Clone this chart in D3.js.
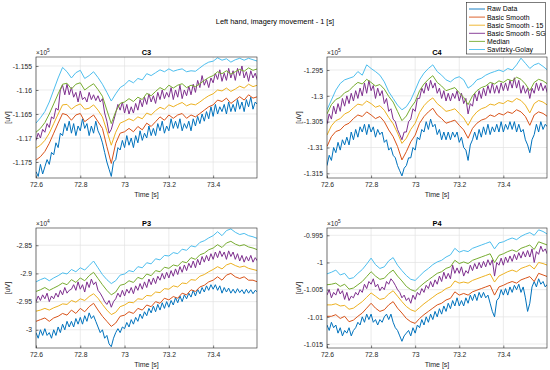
<!DOCTYPE html>
<html>
<head>
<meta charset="utf-8">
<script src="https://cdn.jsdelivr.net/npm/d3@7"></script>
<style>
  body { margin: 0; background: #fff; }
  svg { font-family: "Liberation Sans", Arial, sans-serif; display: block; }
</style>
</head>
<body>
<svg id="chart" width="550" height="370"></svg>
<script>
// --- labels / ticks ---
const SERIES = ["Raw Data", "Basic Smooth", "Basic Smooth - 15", "Basic Smooth - SG", "Median", "Savitzky-Golay"];
const X_TICKS = [72.6, 72.8, 73, 73.2, 73.4];
const T0 = 72.6, DT_FINE = 0.01, DT_COARSE = 0.02;   // raw + SG sampled finer than the other smoothers

// --- C3 (uV) ---
const C3_RAW = [-117700,-117800,-117550,-117750,-117600,-117450,-117550,-117300,-117350,-117100,-117200,-116900,-116950,-116700,-116850,-116650,-116900,-116700,-116950,-116750,-116850,-116600,-116800,-116700,-116950,-116750,-116900,-116650,-116850,-116950,-117100,-117300,-117500,-117650,-117800,-117500,-117450,-117200,-117250,-117050,-117200,-116950,-117150,-117000,-117200,-116950,-117100,-116850,-117050,-116900,-117000,-116750,-116950,-116800,-116950,-116700,-116850,-116650,-116900,-116750,-116850,-116600,-116800,-116650,-116800,-116600,-116850,-116700,-116800,-116650,-116850,-116600,-116750,-116550,-116700,-116500,-116650,-116450,-116600,-116350,-116550,-116300,-116500,-116350,-116450,-116300,-116500,-116250,-116450,-116300,-116450,-116200,-116400,-116250,-116450,-116200,-116350,-116150,-116400,-116250,-116300];
const C3_BASIC = [-117460,-117390,-117280,-117110,-116900,-116690,-116490,-116520,-116630,-116520,-116490,-116660,-116590,-116520,-116660,-116800,-117180,-117530,-117110,-116900,-116870,-116800,-116870,-116760,-116830,-116690,-116760,-116660,-116560,-116630,-116520,-116590,-116520,-116490,-116590,-116520,-116560,-116490,-116420,-116350,-116310,-116210,-116240,-116170,-116280,-116210,-116140,-116210,-116100,-116170,-116140];
const C3_BASIC15 = [-117210,-117150,-117050,-116900,-116700,-116500,-116310,-116300,-116400,-116330,-116290,-116400,-116380,-116310,-116420,-116560,-116850,-117150,-116880,-116690,-116650,-116600,-116640,-116560,-116600,-116480,-116520,-116430,-116360,-116400,-116310,-116350,-116300,-116260,-116330,-116290,-116310,-116250,-116180,-116120,-116080,-116000,-116020,-115960,-116030,-115980,-115920,-115960,-115880,-115930,-115900];
const C3_SG = [-117050,-116900,-117000,-116820,-116880,-116700,-116780,-116560,-116600,-116380,-116420,-116000,-115900,-116100,-115880,-116100,-115950,-116150,-116050,-116250,-116020,-116200,-116150,-116250,-116050,-116200,-116100,-116220,-116120,-116250,-116180,-116480,-116650,-116900,-116820,-116650,-116480,-116300,-116420,-116250,-116480,-116300,-116500,-116350,-116480,-116280,-116420,-116200,-116350,-116150,-116300,-116080,-116250,-116120,-116280,-116050,-116200,-116000,-116180,-116050,-116150,-115950,-116200,-116000,-116150,-115900,-116180,-116000,-116120,-115920,-116100,-115880,-116050,-115800,-115950,-115700,-115900,-115780,-115950,-115750,-115850,-115650,-115780,-115580,-115820,-115650,-115800,-115550,-115750,-115600,-115800,-115550,-115700,-115500,-115750,-115620,-115820,-115600,-115750,-115650,-115800];
const C3_MEDIAN = [-116880,-116800,-116680,-116500,-116290,-116080,-115880,-115860,-115980,-115880,-115850,-116000,-115930,-115870,-115990,-116130,-116420,-116700,-116450,-116280,-116250,-116180,-116240,-116150,-116200,-116070,-116120,-116030,-115950,-116000,-115900,-115960,-115900,-115870,-115950,-115900,-115930,-115870,-115800,-115740,-115700,-115620,-115660,-115600,-115670,-115620,-115570,-115610,-115540,-115590,-115560];
const C3_SAVGOL = [-116690,-116580,-116450,-116250,-116000,-115750,-115530,-115620,-115750,-115640,-115590,-115760,-115700,-115620,-115740,-115880,-116050,-116230,-116080,-115950,-115890,-115800,-115850,-115760,-115790,-115660,-115700,-115640,-115580,-115620,-115560,-115610,-115580,-115560,-115620,-115600,-115610,-115540,-115470,-115420,-115400,-115330,-115380,-115350,-115420,-115370,-115340,-115380,-115340,-115370,-115400];

// --- C4 (uV) ---
const C4_RAW = [-131350,-131150,-131250,-131000,-131100,-130900,-131050,-130850,-130950,-130800,-130950,-130700,-130850,-130650,-130800,-130600,-130700,-130550,-130750,-130550,-130700,-130600,-130800,-130650,-130750,-130700,-130900,-130850,-131050,-131000,-131150,-131200,-131350,-131450,-131550,-131400,-131350,-131200,-131200,-131000,-131050,-130800,-130850,-130650,-130700,-130500,-130650,-130450,-130600,-130550,-130750,-130650,-130850,-130700,-130850,-130700,-130850,-130700,-130800,-130700,-130900,-130800,-131000,-131050,-131250,-130950,-130850,-130700,-130850,-130650,-130800,-130600,-130750,-130550,-130750,-130600,-130700,-130550,-130700,-130500,-130700,-130550,-130650,-130500,-130650,-130500,-130700,-130550,-130700,-130650,-130850,-130950,-131100,-130850,-130750,-130550,-130700,-130500,-130650,-130550,-130600];
const C4_BASIC = [-130980,-130790,-130690,-130660,-130570,-130530,-130440,-130370,-130400,-130310,-130370,-130440,-130400,-130500,-130660,-130790,-130980,-131240,-131080,-130890,-130760,-130530,-130400,-130310,-130240,-130370,-130440,-130530,-130500,-130470,-130570,-130660,-130820,-130630,-130530,-130470,-130440,-130370,-130400,-130340,-130370,-130310,-130340,-130270,-130310,-130400,-130570,-130370,-130310,-130340,-130400];
const C4_BASIC15 = [-130760,-130580,-130480,-130440,-130350,-130310,-130230,-130160,-130180,-130100,-130150,-130220,-130190,-130280,-130420,-130540,-130720,-130920,-130820,-130650,-130530,-130320,-130190,-130100,-130040,-130150,-130220,-130300,-130280,-130250,-130340,-130430,-130570,-130410,-130310,-130250,-130220,-130160,-130180,-130130,-130150,-130090,-130120,-130050,-130090,-130180,-130330,-130150,-130090,-130120,-130180];
const C4_SG = [-130550,-130350,-130450,-130200,-130350,-130150,-130300,-130050,-130200,-130000,-130150,-129950,-130100,-129900,-130050,-129850,-130000,-129750,-129950,-129700,-129900,-129800,-130050,-129850,-130000,-129900,-130150,-130050,-130300,-130250,-130450,-130500,-130650,-130750,-130850,-130700,-130700,-130500,-130450,-130250,-130300,-130050,-130050,-129850,-129950,-129750,-129900,-129700,-129850,-129750,-129950,-129850,-130050,-129900,-130100,-129950,-130100,-129950,-130050,-129900,-130100,-129950,-130150,-130050,-130350,-130150,-130200,-129950,-130100,-129900,-130050,-129850,-130000,-129800,-129950,-129750,-129950,-129800,-129950,-129750,-129900,-129750,-129900,-129700,-129850,-129650,-129850,-129700,-129950,-129800,-129950,-129850,-130050,-129850,-129950,-129750,-129900,-129750,-129900,-129800,-129950];
const C4_MEDIAN = [-130350,-130170,-130070,-130030,-129940,-129900,-129810,-129740,-129770,-129680,-129740,-129810,-129780,-129870,-130010,-130120,-130300,-130480,-130390,-130230,-130110,-129900,-129770,-129680,-129610,-129740,-129810,-129900,-129870,-129840,-129940,-130030,-130170,-130000,-129900,-129840,-129810,-129740,-129770,-129710,-129740,-129680,-129710,-129640,-129680,-129770,-129900,-129740,-129680,-129710,-129770];
const C4_SAVGOL = [-130270,-130080,-129890,-129760,-129690,-129660,-129630,-129530,-129600,-129400,-129470,-129530,-129600,-129730,-129920,-130050,-130180,-130270,-130210,-130080,-129890,-129690,-129560,-129470,-129400,-129530,-129600,-129690,-129730,-129660,-129630,-129690,-129850,-129790,-129690,-129660,-129600,-129560,-129530,-129500,-129530,-129470,-129500,-129400,-129270,-129370,-129470,-129400,-129370,-129430,-129500];

// --- P3 (uV) ---
const P3_RAW = [-30050,-30150,-30000,-30100,-29980,-30100,-30050,-30150,-30000,-30100,-29950,-30050,-29900,-30000,-29850,-29950,-29850,-29950,-29800,-29900,-29780,-29900,-29750,-29850,-29700,-29800,-29750,-29850,-29950,-30050,-30000,-30150,-30100,-30250,-30300,-30150,-30050,-29980,-30050,-29950,-29980,-29870,-29950,-29820,-29900,-29780,-29850,-29720,-29800,-29680,-29750,-29620,-29700,-29580,-29680,-29550,-29650,-29520,-29620,-29500,-29600,-29480,-29560,-29430,-29520,-29400,-29500,-29380,-29450,-29350,-29420,-29300,-29400,-29280,-29360,-29250,-29330,-29220,-29300,-29200,-29280,-29200,-29300,-29220,-29350,-29250,-29330,-29260,-29350,-29280,-29350,-29270,-29340,-29290,-29360,-29280,-29350,-29290,-29360,-29300,-29330];
const P3_BASIC = [-29850,-29820,-29790,-29850,-29790,-29760,-29710,-29740,-29650,-29710,-29620,-29680,-29590,-29530,-29650,-29760,-29850,-29940,-29880,-29760,-29740,-29680,-29710,-29620,-29650,-29560,-29590,-29500,-29530,-29440,-29470,-29410,-29440,-29350,-29380,-29290,-29320,-29240,-29210,-29150,-29120,-29060,-29120,-29030,-29000,-29060,-29090,-29060,-29120,-29120,-29150];
const P3_BASIC15 = [-29670,-29650,-29620,-29650,-29610,-29580,-29540,-29550,-29480,-29510,-29450,-29480,-29410,-29360,-29440,-29550,-29650,-29730,-29690,-29590,-29560,-29510,-29520,-29450,-29460,-29390,-29400,-29330,-29340,-29270,-29280,-29220,-29240,-29170,-29180,-29110,-29120,-29050,-29020,-28970,-28930,-28880,-28920,-28850,-28820,-28860,-28890,-28870,-28910,-28930,-28950];
const P3_SG = [-29500,-29400,-29480,-29380,-29450,-29350,-29500,-29400,-29450,-29350,-29420,-29300,-29380,-29250,-29350,-29300,-29280,-29200,-29300,-29150,-29280,-29200,-29330,-29150,-29250,-29100,-29200,-29150,-29300,-29350,-29420,-29500,-29550,-29480,-29600,-29500,-29450,-29350,-29420,-29300,-29400,-29280,-29350,-29250,-29360,-29220,-29300,-29180,-29280,-29150,-29250,-29100,-29200,-29080,-29180,-29050,-29120,-29000,-29100,-28980,-29080,-28950,-29050,-28920,-29020,-28880,-28980,-28850,-28950,-28820,-28900,-28780,-28900,-28750,-28850,-28700,-28800,-28680,-28780,-28650,-28750,-28620,-28720,-28600,-28700,-28620,-28750,-28600,-28700,-28620,-28750,-28650,-28780,-28680,-28800,-28700,-28780,-28680,-28800,-28720,-28780];
const P3_MEDIAN = [-29320,-29290,-29250,-29300,-29260,-29220,-29170,-29200,-29110,-29160,-29080,-29130,-29040,-28980,-29090,-29200,-29300,-29380,-29330,-29210,-29190,-29130,-29160,-29070,-29100,-29010,-29040,-28950,-28970,-28890,-28910,-28850,-28870,-28790,-28810,-28720,-28750,-28670,-28640,-28580,-28550,-28490,-28540,-28460,-28430,-28480,-28510,-28490,-28530,-28550,-28580];
const P3_SAVGOL = [-29150,-29110,-29080,-29130,-29080,-29040,-28990,-29010,-28930,-28970,-28900,-28940,-28860,-28780,-28900,-29020,-29110,-29180,-29130,-29030,-29010,-28950,-28970,-28880,-28900,-28810,-28830,-28740,-28760,-28680,-28690,-28630,-28650,-28570,-28590,-28510,-28530,-28450,-28420,-28370,-28330,-28260,-28330,-28240,-28210,-28270,-28310,-28290,-28330,-28350,-28380];

// --- P4 (uV) ---
const P4_RAW = [-101150,-101250,-101100,-101200,-101150,-101300,-101200,-101350,-101250,-101300,-101200,-101350,-101250,-101200,-101100,-101150,-101000,-101100,-100950,-101050,-100950,-101100,-101050,-101150,-101050,-101100,-101000,-100950,-101050,-100950,-101100,-101200,-101250,-101350,-101450,-101350,-101300,-101250,-101350,-101200,-101300,-101150,-101200,-101050,-101150,-101000,-101100,-100950,-101050,-100900,-101000,-100850,-100950,-100800,-100900,-100750,-100850,-100700,-100800,-100650,-100800,-100700,-100800,-100650,-100750,-100600,-100700,-100580,-100700,-100550,-100650,-100550,-100650,-100600,-100750,-100900,-101000,-100700,-100650,-100500,-100600,-100480,-100600,-100450,-100550,-100420,-100500,-100400,-100550,-100450,-100650,-100900,-100750,-100450,-100350,-100450,-100300,-100400,-100350,-100450,-100400];
const P4_BASIC = [-100990,-100990,-100960,-101030,-100990,-101090,-101060,-100990,-100930,-100840,-100750,-100840,-100900,-100870,-100780,-100720,-100840,-100930,-101030,-101090,-101120,-101030,-100960,-100900,-100840,-100780,-100750,-100690,-100660,-100540,-100600,-100570,-100600,-100540,-100510,-100480,-100450,-100420,-100600,-100450,-100420,-100380,-100350,-100380,-100320,-100290,-100260,-100350,-100200,-100230,-100260];
const P4_BASIC15 = [-100780,-100780,-100760,-100800,-100790,-100860,-100840,-100780,-100720,-100640,-100560,-100620,-100680,-100660,-100580,-100520,-100620,-100720,-100810,-100870,-100900,-100830,-100760,-100700,-100640,-100580,-100540,-100480,-100450,-100340,-100380,-100360,-100380,-100330,-100300,-100270,-100240,-100210,-100360,-100250,-100210,-100170,-100140,-100170,-100110,-100080,-100050,-100120,-100000,-100020,-100050];
const P4_SG = [-100600,-100500,-100650,-100550,-100600,-100480,-100580,-100520,-100680,-100550,-100700,-100620,-100650,-100550,-100600,-100500,-100550,-100400,-100480,-100350,-100400,-100300,-100450,-100400,-100520,-100450,-100500,-100350,-100400,-100300,-100350,-100420,-100500,-100550,-100650,-100600,-100700,-100650,-100750,-100600,-100680,-100550,-100600,-100480,-100550,-100420,-100480,-100350,-100450,-100320,-100400,-100250,-100350,-100180,-100300,-100200,-100300,-100050,-100200,-100100,-100200,-100080,-100250,-100150,-100200,-100050,-100150,-100020,-100120,-100000,-100100,-99980,-100080,-99950,-100050,-99950,-100250,-100000,-100050,-99920,-100050,-99900,-100000,-99880,-99980,-99850,-99950,-99820,-99920,-99800,-99900,-99780,-99900,-99750,-100000,-99800,-99850,-99700,-99800,-99750,-99850];
const P4_MEDIAN = [-100410,-100400,-100380,-100440,-100400,-100490,-100470,-100410,-100350,-100260,-100170,-100250,-100310,-100290,-100200,-100140,-100250,-100340,-100440,-100500,-100530,-100450,-100380,-100320,-100260,-100200,-100170,-100110,-100080,-99960,-100020,-99990,-100020,-99960,-99930,-99900,-99870,-99840,-100000,-99870,-99840,-99800,-99770,-99800,-99740,-99710,-99680,-99760,-99620,-99650,-99680];
const P4_SAVGOL = [-100210,-100180,-100140,-100230,-100200,-100300,-100280,-100200,-100130,-100030,-99920,-100040,-100110,-100080,-99970,-99910,-100050,-100150,-100240,-100310,-100330,-100250,-100170,-100110,-100040,-99990,-99960,-99900,-99860,-99740,-99810,-99780,-99800,-99740,-99710,-99680,-99650,-99620,-99750,-99640,-99620,-99580,-99550,-99580,-99520,-99480,-99450,-99500,-99400,-99430,-99480];

// y tick labels as MATLAB shows them (value / 10^exp)
const C3_YTICKS = [-1.175, -1.17, -1.165, -1.16, -1.155];
const C4_YTICKS = [-1.315, -1.31, -1.305, -1.3, -1.295];
const P3_YTICKS = [-3, -2.95, -2.9, -2.85];
const P4_YTICKS = [-1.015, -1.01, -1.005, -1, -0.995];

// colours (MATLAB default order)
const COLORS = ["#0072bd", "#d95319", "#edb120", "#7e2f8e", "#77ac30", "#4dbeee"];
const STEP = [DT_FINE, DT_COARSE, DT_COARSE, DT_FINE, DT_COARSE, DT_COARSE];

const panels = [
  { name: "C3", data: [C3_RAW, C3_BASIC, C3_BASIC15, C3_SG, C3_MEDIAN, C3_SAVGOL], ticks: C3_YTICKS, exp: 5,
    ylim: [-117833, -115313], box: [36, 57, 257, 178] },
  { name: "C4", data: [C4_RAW, C4_BASIC, C4_BASIC15, C4_SG, C4_MEDIAN, C4_SAVGOL], ticks: C4_YTICKS, exp: 5,
    ylim: [-131590, -129248], box: [327, 57, 547, 178] },
  { name: "P3", data: [P3_RAW, P3_BASIC, P3_BASIC15, P3_SG, P3_MEDIAN, P3_SAVGOL], ticks: P3_YTICKS, exp: 4,
    ylim: [-30323, -28194], box: [36, 228, 257, 348] },
  { name: "P4", data: [P4_RAW, P4_BASIC, P4_BASIC15, P4_SG, P4_MEDIAN, P4_SAVGOL], ticks: P4_YTICKS, exp: 5,
    ylim: [-101573, -99366], box: [327, 228, 547, 348] }
];

const svg = d3.select("#chart");
const ink = "#262626";

svg.append("text").attr("x", 275).attr("y", 24).attr("text-anchor", "middle")
  .attr("font-size", 7.4).attr("fill", "#000").text("Left hand, imagery movement - 1 [s]");

panels.forEach((p, pi) => {
  const [x0, y0, x1, y1] = p.box;
  const x = d3.scaleLinear().domain([72.6, 73.598]).range([x0, x1]);
  const y = d3.scaleLinear().domain(p.ylim).range([y1, y0]);
  const mult = Math.pow(10, p.exp);
  const g = svg.append("g");

  // grid
  g.selectAll(".gx").data(X_TICKS).join("line")
    .attr("x1", d => x(d)).attr("x2", d => x(d)).attr("y1", y0).attr("y2", y1)
    .attr("stroke", "#e3e3e3").attr("stroke-width", 0.7);
  g.selectAll(".gy").data(p.ticks).join("line")
    .attr("x1", x0).attr("x2", x1).attr("y1", d => y(d * mult)).attr("y2", d => y(d * mult))
    .attr("stroke", "#e3e3e3").attr("stroke-width", 0.7);

  // lines
  const clipId = "clip" + pi;
  svg.append("clipPath").attr("id", clipId).append("rect")
    .attr("x", x0).attr("y", y0).attr("width", x1 - x0).attr("height", y1 - y0);
  const lines = g.append("g").attr("clip-path", `url(#${clipId})`);
  p.data.forEach((vals, si) => {
    const line = d3.line().x((d, i) => x(T0 + i * STEP[si])).y(d => y(d));
    lines.append("path").attr("d", line(vals)).attr("fill", "none")
      .attr("stroke", COLORS[si]).attr("stroke-width", 1).attr("stroke-linejoin", "round");
  });

  // axes (ticks inside, MATLAB style)
  const ax = g.append("g").attr("transform", `translate(0,${y1})`)
    .call(d3.axisBottom(x).tickValues(X_TICKS).tickSize(-2.5).tickPadding(4).tickFormat(d3.format("")));
  const ay = g.append("g").attr("transform", `translate(${x0},0)`)
    .call(d3.axisLeft(y).tickValues(p.ticks.map(t => t * mult)).tickSize(-2.5).tickPadding(4)
      .tickFormat(d => String(+(d / mult).toFixed(3))));
  [ax, ay].forEach(a => {
    a.select(".domain").remove();
    a.selectAll("line").attr("stroke", ink).attr("stroke-width", 0.6);
    a.selectAll("text").attr("font-size", 6.8).attr("fill", ink).attr("font-family", "Liberation Sans, Arial, sans-serif");
  });
  g.append("rect").attr("x", x0).attr("y", y0).attr("width", x1 - x0).attr("height", y1 - y0)
    .attr("fill", "none").attr("stroke", ink).attr("stroke-width", 0.6);

  // labels
  g.append("text").attr("x", (x0 + x1) / 2).attr("y", y0 - 2.5).attr("text-anchor", "middle")
    .attr("font-size", 7.4).attr("font-weight", "bold").attr("fill", "#000").text(p.name);
  g.append("text").attr("x", (x0 + x1) / 2).attr("y", y1 + 18.5).attr("text-anchor", "middle")
    .attr("font-size", 7).attr("fill", ink).text("Time [s]");
  g.append("text").attr("transform", `translate(${x0 - 26},${(y0 + y1) / 2}) rotate(-90)`)
    .attr("text-anchor", "middle").attr("font-size", 7).attr("fill", ink).text("[uV]");
  const e = g.append("text").attr("x", x0).attr("y", y0 - 2.5).attr("font-size", 6.5).attr("fill", ink);
  e.append("tspan").text("\u00d710");
  e.append("tspan").attr("dy", -3).attr("font-size", 4.8).text(p.exp);
});

// legend
const lg = svg.append("g");
lg.append("rect").attr("x", 466.5).attr("y", 2.5).attr("width", 79).attr("height", 51.5)
  .attr("fill", "#fff").attr("stroke", ink).attr("stroke-width", 0.6);
SERIES.forEach((s, i) => {
  const yy = 9 + i * 8.1;
  lg.append("line").attr("x1", 469).attr("x2", 485).attr("y1", yy).attr("y2", yy)
    .attr("stroke", COLORS[i]).attr("stroke-width", 0.9);
  lg.append("text").attr("x", 487).attr("y", yy + 2.4).attr("font-size", 6.9).attr("fill", "#000").text(s);
});
</script>
</body>
</html>
